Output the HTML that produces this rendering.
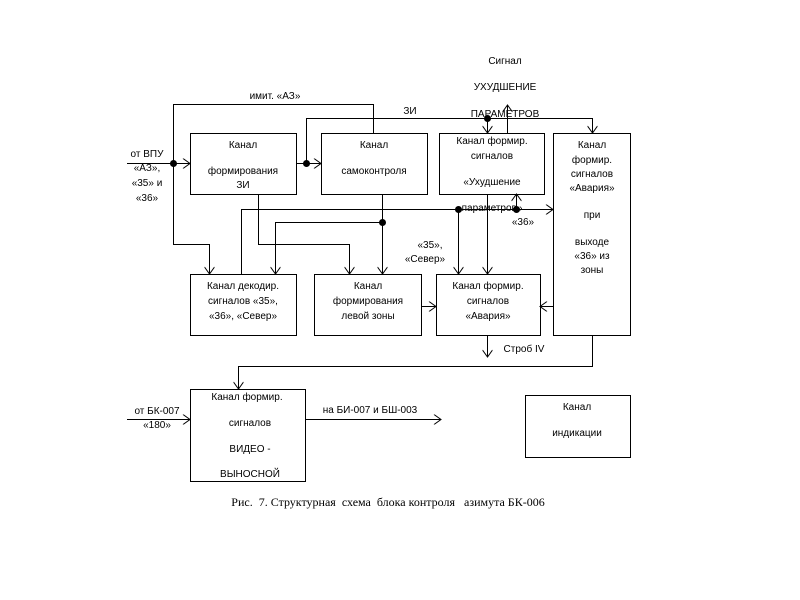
<!DOCTYPE html>
<html><head><meta charset="utf-8"><style>
html,body{margin:0;padding:0;background:#fff;width:800px;height:600px;overflow:hidden}
svg text{font-family:"Liberation Sans","DejaVu Sans",sans-serif;font-size:10px;fill:#000}
</style></head><body>
<svg width="800" height="600" viewBox="0 0 800 600" xmlns="http://www.w3.org/2000/svg">
<defs>
<marker id="a" markerWidth="10" markerHeight="10" refX="9" refY="5" orient="auto" markerUnits="userSpaceOnUse">
<polyline points="2,0 9,5 2,10" fill="none" stroke="#000" stroke-width="1"/>
</marker>
</defs>
<g fill="none" stroke="#000" stroke-width="1">
<rect x="190.5" y="133.5" width="106" height="61"/>
<rect x="321.5" y="133.5" width="106" height="61"/>
<rect x="439.5" y="133.5" width="105" height="61"/>
<rect x="553.5" y="133.5" width="77" height="202"/>
<rect x="190.5" y="274.5" width="106" height="61"/>
<rect x="314.5" y="274.5" width="107" height="61"/>
<rect x="436.5" y="274.5" width="104" height="61"/>
<rect x="190.5" y="389.5" width="115" height="92"/>
<rect x="525.5" y="395.5" width="105" height="62"/>
<path d="M127,163.5 H190" marker-end="url(#a)"/>
<path d="M173.5,163 V104.5 H373.5 V133"/>
<path d="M173.5,163 V244.5 H209.5 V274" marker-end="url(#a)"/>
<path d="M296,163.5 H321" marker-end="url(#a)"/>
<path d="M306.5,163 V118.5 H592.5 V133" marker-end="url(#a)"/>
<path d="M487.5,118 V133" marker-end="url(#a)"/>
<path d="M507.5,133 V105" marker-end="url(#a)"/>
<path d="M258.5,194 V244.5 H349.5 V274" marker-end="url(#a)"/>
<path d="M382.5,194 V274" marker-end="url(#a)"/>
<path d="M382.5,222.5 H275.5 V274" marker-end="url(#a)"/>
<path d="M241.5,274 V209.5 H553" marker-end="url(#a)"/>
<path d="M458.5,209 V274" marker-end="url(#a)"/>
<path d="M516.5,209 V194" marker-end="url(#a)"/>
<path d="M487.5,194 V274" marker-end="url(#a)"/>
<path d="M421,306.5 H436" marker-end="url(#a)"/>
<path d="M553,306.5 H540" marker-end="url(#a)"/>
<path d="M487.5,335 V357" marker-end="url(#a)"/>
<path d="M592.5,335 V366.5 H238.5 V389" marker-end="url(#a)"/>
<path d="M127,419.5 H190" marker-end="url(#a)"/>
<path d="M305,419.5 H441" marker-end="url(#a)"/>
</g>
<g fill="#000">
<circle cx="173.5" cy="163.5" r="3.5"/>
<circle cx="306.5" cy="163.5" r="3.5"/>
<circle cx="487.5" cy="118.5" r="3.5"/>
<circle cx="382.5" cy="222.5" r="3.5"/>
<circle cx="458.5" cy="209.5" r="3.5"/>
<circle cx="516.5" cy="209.5" r="3.5"/>
</g>
<g text-anchor="middle">
<text x="243" y="148">Канал</text>
<text x="243" y="174">формирования</text>
<text x="243" y="188">ЗИ</text>
<text x="374" y="148">Канал</text>
<text x="374" y="174">самоконтроля</text>
<text x="492" y="144">Канал формир.</text>
<text x="492" y="159">сигналов</text>
<text x="492" y="185">«Ухудшение</text>
<text x="492" y="211">параметров»</text>
<text x="592" y="148">Канал</text>
<text x="592" y="163">формир.</text>
<text x="592" y="177">сигналов</text>
<text x="592" y="191">«Авария»</text>
<text x="592" y="218">при</text>
<text x="592" y="245">выходе</text>
<text x="592" y="259">«36» из</text>
<text x="592" y="273">зоны</text>
<text x="243" y="289">Канал декодир.</text>
<text x="243" y="304">сигналов «35»,</text>
<text x="243" y="319">«36», «Север»</text>
<text x="368" y="289">Канал</text>
<text x="368" y="304">формирования</text>
<text x="368" y="319">левой зоны</text>
<text x="488" y="289">Канал формир.</text>
<text x="488" y="304">сигналов</text>
<text x="488" y="319">«Авария»</text>
<text x="247" y="400">Канал формир.</text>
<text x="250" y="426">сигналов</text>
<text x="250" y="452">ВИДЕО -</text>
<text x="250" y="477">ВЫНОСНОЙ</text>
<text x="577" y="410">Канал</text>
<text x="577" y="436">индикации</text>
<text x="505" y="64">Сигнал</text>
<text x="505" y="90">УХУДШЕНИЕ</text>
<text x="505" y="117">ПАРАМЕТРОВ</text>
<text x="275" y="99">имит. «АЗ»</text>
<text x="410" y="114">ЗИ</text>
<text x="147" y="157">от ВПУ</text>
<text x="147" y="171">«АЗ»,</text>
<text x="147" y="186">«35» и</text>
<text x="147" y="201">«36»</text>
<text x="430" y="248">«35»,</text>
<text x="425" y="262">«Север»</text>
<text x="523" y="225">«36»</text>
<text x="524" y="352">Строб IV</text>
<text x="157" y="414">от БК-007</text>
<text x="157" y="428">«180»</text>
<text x="370" y="413">на БИ-007  и БШ-003</text>
<text x="388" y="506" style="font-family:'Liberation Serif',serif;font-size:12px;white-space:pre" xml:space="preserve">Рис.  7. Структурная  схема  блока контроля   азимута БК-006</text>
</g>
</svg>
</body></html>
